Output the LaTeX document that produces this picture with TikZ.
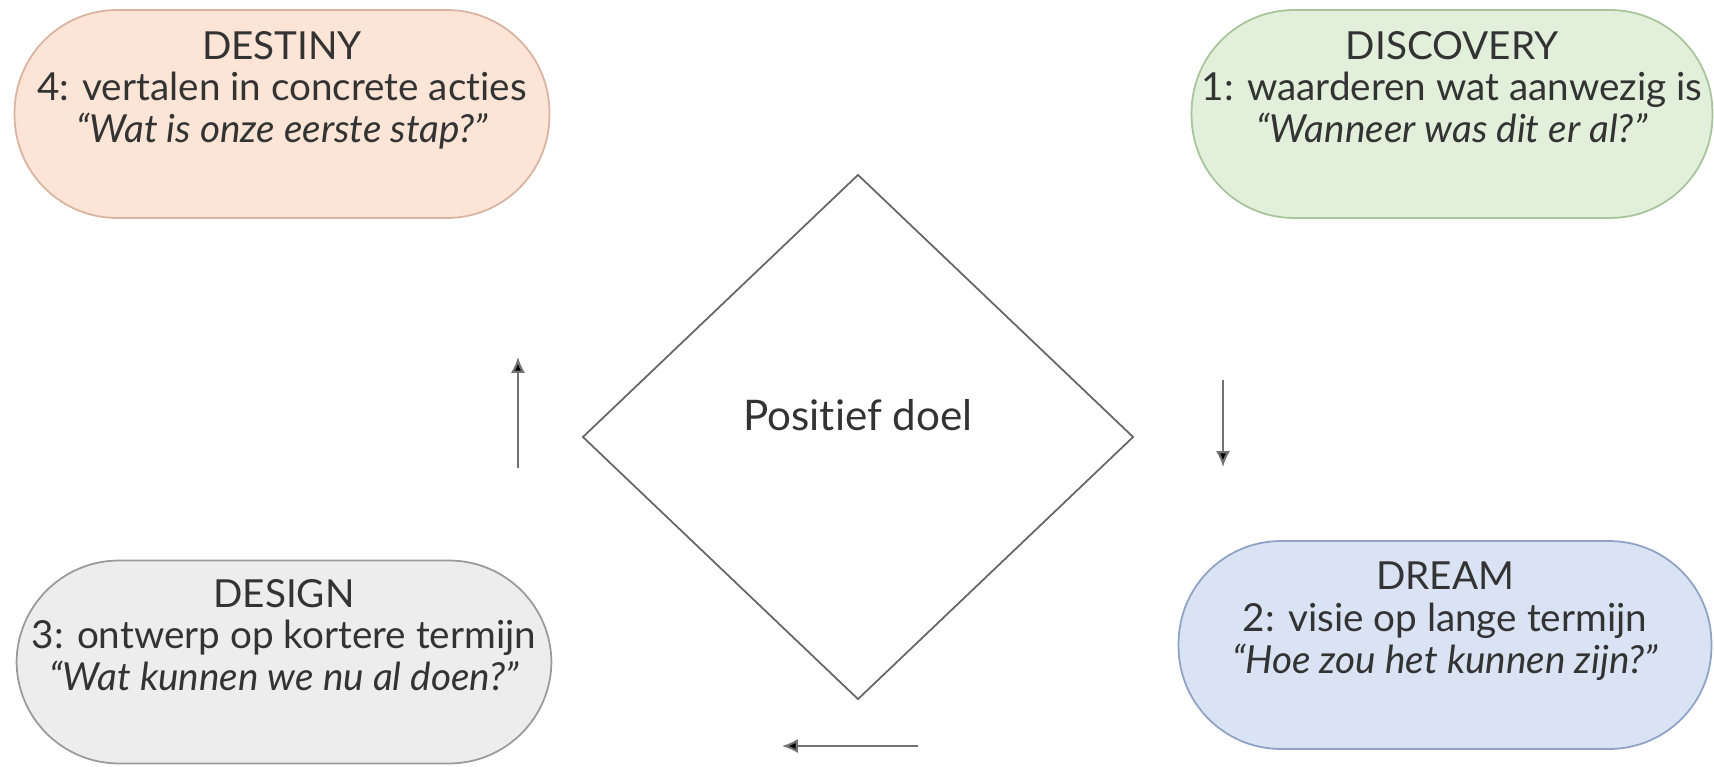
\documentclass[tikz,border=0pt]{standalone}
\usepackage{fontspec}
\setmainfont{Lato}[Ligatures={NoCommon,NoContextual}]
\usetikzlibrary{shapes.geometric,arrows.meta}
\definecolor{destinyfill}{HTML}{FCE4D6}
\definecolor{destinyline}{HTML}{D8B4A0}
\definecolor{discoveryfill}{HTML}{E2EFDA}
\definecolor{discoveryline}{HTML}{A8C49A}
\definecolor{designfill}{HTML}{EDEDED}
\definecolor{designline}{HTML}{9A9A9A}
\definecolor{dreamfill}{HTML}{DAE3F3}
\definecolor{dreamline}{HTML}{8FA2C6}
\tikzset{
  fase/.style={rectangle, rounded corners=2.05cm, draw, line width=1pt, inner sep=0pt,
    minimum height=4.16cm, minimum width=10.7cm,
    align=center, text=black!80, font=\fontsize{22}{23.8}\selectfont},
  pijl/.style={draw=black!55, line width=1.2pt, -{Latex[length=9pt,width=8pt,fill=black]}},
}
\begin{document}
\begin{tikzpicture}[x=0.02cm,y=-0.02cm]
  \useasboundingbox (0,0) rectangle (1714,767);
  \draw
    (282,114) node[fase, fill=destinyfill, draw=destinyline] (destiny)
      {DESTINY\\4: vertalen in concrete acties\\\textit{“Wat is onze eerste stap?”}\\\strut}
    (1452,114) node[fase, fill=discoveryfill, draw=discoveryline, minimum width=10.42cm] (discovery)
      {DISCOVERY\\1: waarderen wat aanwezig is\\\textit{“Wanneer was dit er al?”}\\\strut}
    (1445,645) node[fase, fill=dreamfill, draw=dreamline, minimum width=10.66cm] (dream)
      {DREAM\\2: visie op lange termijn\\\textit{“Hoe zou het kunnen zijn?”}\\\strut}
    (284,662) node[fase, fill=designfill, draw=designline, minimum height=4.06cm] (design)
      {DESIGN\\3: ontwerp op kortere termijn\\\textit{“Wat kunnen we nu al doen?”}\\\strut};
  \node[diamond, draw=black!60, line width=1pt, inner sep=0pt,
    minimum width=11.02cm, minimum height=10.5cm] (doel) at (858,437) {};
  \node[text=black!80, font=\fontsize{24}{28}\selectfont] (doeltekst) at (858,415) {Positief doel};
  \coordinate (p1a) at (1223,380);
  \coordinate (p1b) at (1223,467);
  \coordinate (p2a) at (918,746);
  \coordinate (p2b) at (782,746);
  \coordinate (p3a) at (518,468);
  \coordinate (p3b) at (518,357);
  \begin{scope}[pijl]
    \draw (p1a) to (p1b);
    \draw (p2a) to (p2b);
    \draw (p3a) to (p3b);
  \end{scope}
\end{tikzpicture}
\end{document}
